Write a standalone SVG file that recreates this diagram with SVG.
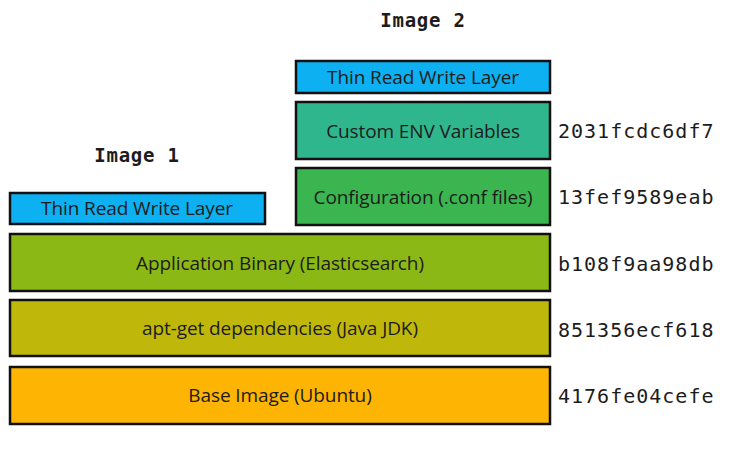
<svg xmlns="http://www.w3.org/2000/svg" width="732" height="459" viewBox="0 0 732 459">
  <style>
    .layer rect { stroke: #111; stroke-width: 2.5; }
    .lbl { font-family: "Open Sans", "Liberation Sans", sans-serif; font-size: 19px; letter-spacing: -0.1px; fill: #1c1c1c; text-anchor: middle; }
    .hash { font-family: "DejaVu Sans Mono", "Liberation Mono", monospace; font-size: 20px; fill: #1c1c1c; letter-spacing: 1px; }
    .title { font-family: "DejaVu Sans Mono", "Liberation Mono", monospace; font-size: 19px; font-weight: bold; fill: #1c1c1c; text-anchor: middle; letter-spacing: 0.8px; }
  </style>
  <rect width="732" height="459" fill="#ffffff"/>

  <text class="title" x="423" y="27">Image 2</text>
  <text class="title" x="137" y="162">Image 1</text>

  <g id="rw2" class="layer">
    <rect x="296" y="61" width="254" height="32" fill="#0db0f0"/>
    <text class="lbl" x="423" y="84">Thin Read Write Layer</text>
  </g>
  <g id="env" class="layer">
    <rect x="296" y="102" width="254" height="57" fill="#30b68c"/>
    <text class="lbl" x="423" y="138">Custom ENV Variables</text>
  </g>
  <g id="conf" class="layer">
    <rect x="296" y="168" width="254" height="57" fill="#3ab54f"/>
    <text class="lbl" x="423" y="204">Configuration (.conf files)</text>
  </g>
  <g id="rw1" class="layer">
    <rect x="10" y="193" width="255" height="31" fill="#0db0f0"/>
    <text class="lbl" x="137" y="215">Thin Read Write Layer</text>
  </g>
  <g id="app" class="layer">
    <rect x="10" y="234" width="540" height="57" fill="#8cb816"/>
    <text class="lbl" x="280" y="270">Application Binary (Elasticsearch)</text>
  </g>
  <g id="apt" class="layer">
    <rect x="10" y="300" width="540" height="56" fill="#bfb80b"/>
    <text class="lbl" x="280" y="335">apt-get dependencies (Java JDK)</text>
  </g>
  <g id="base" class="layer">
    <rect x="10" y="367" width="540" height="57" fill="#fdb402"/>
    <text class="lbl" x="280" y="402">Base Image (Ubuntu)</text>
  </g>

  <g id="hashes">
    <text class="hash" x="558" y="138">2031fcdc6df7</text>
    <text class="hash" x="558" y="204">13fef9589eab</text>
    <text class="hash" x="558" y="271">b108f9aa98db</text>
    <text class="hash" x="558" y="337">851356ecf618</text>
    <text class="hash" x="558" y="403">4176fe04cefe</text>
  </g>
</svg>
